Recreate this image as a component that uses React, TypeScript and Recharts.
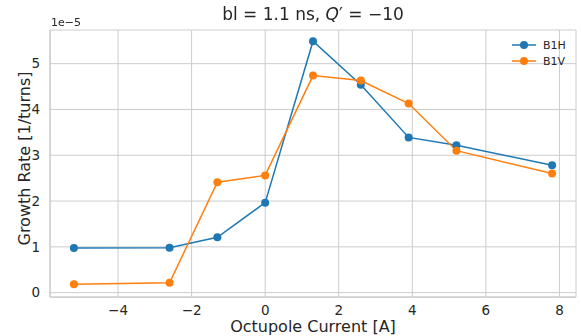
import React from "react";
import { LineChart, Line, XAxis, YAxis, CartesianGrid } from "recharts";

const current = [-5.2, -2.6, -1.3, 0, 1.3, 2.6, 3.9, 5.2, 7.8];
const b1h = [0.976, 0.98, 1.21, 1.965, 5.49, 4.54, 3.39, 3.22, 2.78];
const b1v = [0.184, 0.215, 2.41, 2.56, 4.74, 4.63, 4.13, 3.1, 2.6];
const xTicks = [-4, -2, 0, 2, 4, 6, 8];
const yTicks = [0, 1, 2, 3, 4, 5];

const data = current.map((x, i) => ({ x, b1h: b1h[i], b1v: b1v[i] }));

const FONT = "DejaVu Sans, sans-serif";
const TEXT = "#262626";
const GRID = "#cccccc";
const fmt = (v: number) => String(v).replace("-", "\u2212");

function LegendRow({ color, label, top }: { color: string; label: string; top: number }) {
  return (
    <div style={{ position: "absolute", left: 512, top: top - 8, height: 16, display: "flex", alignItems: "center" }}>
      <svg width={26} height={16}>
        <line x1={0} y1={8} x2={24} y2={8} stroke={color} strokeWidth={1.5} />
        <circle cx={12} cy={8} r={4} fill={color} />
      </svg>
      <span style={{ marginLeft: 5, fontSize: 11, color: TEXT, fontFamily: FONT }}>{label}</span>
    </div>
  );
}

export default function App() {
  return (
    <div style={{ position: "fixed", left: 0, top: 0, width: 581, height: 336, background: "#fff", fontFamily: FONT }}>
      <LineChart width={581} height={336} data={data} margin={{ top: 30, right: 5, bottom: 0, left: 0 }}>
        <CartesianGrid stroke={GRID} strokeWidth={1} />
        <XAxis
          dataKey="x"
          type="number"
          domain={[-5.85, 8.45]}
          ticks={xTicks}
          allowDataOverflow
          tickFormatter={fmt}
          height={39}
          tickLine={false}
          axisLine={{ stroke: GRID, strokeWidth: 1.25 }}
          tick={{ fill: TEXT, fontSize: 13.5, fontFamily: FONT }}
          tickMargin={2}
          label={{ value: "Octupole Current [A]", position: "insideBottom", offset: 4, fill: TEXT, fontSize: 16, fontFamily: FONT }}
        />
        <XAxis xAxisId="top" orientation="top" dataKey="x" type="number" domain={[-5.85, 8.45]} height={0} tick={false} tickLine={false} axisLine={{ stroke: GRID, strokeWidth: 1.25 }} />
        <YAxis
          type="number"
          domain={[-0.095, 5.735]}
          ticks={yTicks}
          allowDataOverflow
          width={50}
          tickLine={false}
          axisLine={{ stroke: GRID, strokeWidth: 1.25 }}
          tick={{ fill: TEXT, fontSize: 13.5, fontFamily: FONT }}
          tickMargin={4}
          label={{ value: "Growth Rate [1/turns]", angle: -90, position: "insideLeft", offset: 24, dy: -5, style: { textAnchor: "middle" }, fill: TEXT, fontSize: 16, fontFamily: FONT }}
        />
        <YAxis yAxisId="right" orientation="right" domain={[-0.095, 5.735]} width={0} tick={false} tickLine={false} axisLine={{ stroke: GRID, strokeWidth: 1.25 }} />
        <Line dataKey="b1h" stroke="#1f77b4" strokeWidth={1.5} dot={{ r: 4, fill: "#1f77b4", stroke: "#1f77b4", strokeWidth: 0 }} activeDot={false} isAnimationActive={false} />
        <Line dataKey="b1v" stroke="#ff7f0e" strokeWidth={1.5} dot={{ r: 4, fill: "#ff7f0e", stroke: "#ff7f0e", strokeWidth: 0 }} activeDot={false} isAnimationActive={false} />
      </LineChart>
      <div style={{ position: "absolute", left: 0, width: 626, top: 4, textAlign: "center", fontSize: 17, color: TEXT }}>
        bl = 1.1 ns, <i>Q</i>{"\u2032"} = {"\u2212"}10
      </div>
      <div style={{ position: "absolute", left: 51, top: 16, fontSize: 11, color: TEXT }}>1e{"\u2212"}5</div>
      <LegendRow color="#1f77b4" label="B1H" top={45} />
      <LegendRow color="#ff7f0e" label="B1V" top={61} />
    </div>
  );
}
